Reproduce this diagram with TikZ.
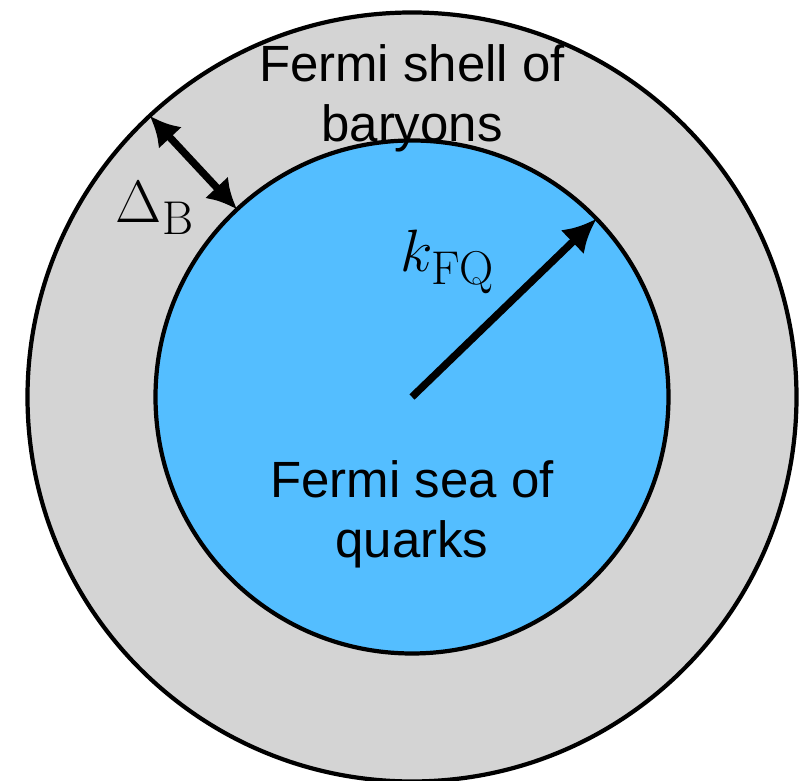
\RequirePackage{fix-cm}
\documentclass[tikz,border=0pt]{standalone}
\usepackage{fontspec}
\newfontfamily\labelfont{Liberation Sans}
\usetikzlibrary{arrows.meta}
\definecolor{shellgray}{RGB}{212,212,212}
\definecolor{seablue}{RGB}{84,190,255}
\DeclareMathSizes{34}{34}{27}{20}

\begin{document}
\begin{tikzpicture}[
    ball/.style={circle,draw,line width=2.4pt,inner sep=0pt,outer sep=0pt},
    txt/.style={font=\labelfont\fontsize{29}{34}\selectfont,align=center},
    sym/.style={font=\fontsize{34}{38}\selectfont,inner sep=0pt},
    ptr/.style={line width=4.2pt,-{Latex[length=19pt,width=19pt]}},
    dblptr/.style={line width=4.2pt,{Latex[length=17pt,width=18pt]}-{Latex[length=17pt,width=18pt]}}]
    \useasboundingbox (0,0) rectangle (16.24,15.62);

    \node[ball,fill=shellgray,minimum size=15.38cm] (outer) at (8.24,7.68) {};
    \node[ball,fill=seablue,minimum size=10.26cm] (inner) at (8.24,7.68) {};

    \node[txt] (shell) at (8.24,13.66) {Fermi shell of\\baryons};
    \node[txt] (sea) at (8.24,5.34) {Fermi sea of\\quarks};

    \node[sym] (kfq) at (8.96,10.38) {$k_{\mathrm{FQ}}$};
    \node[sym] (gap) at (3.10,11.46) {$\Delta_{\mathrm{B}}$};

    \draw[ptr] (inner.center) -- (inner.44.5);
    \draw[dblptr] (outer.133) -- (inner.133);
\end{tikzpicture}
\end{document}
